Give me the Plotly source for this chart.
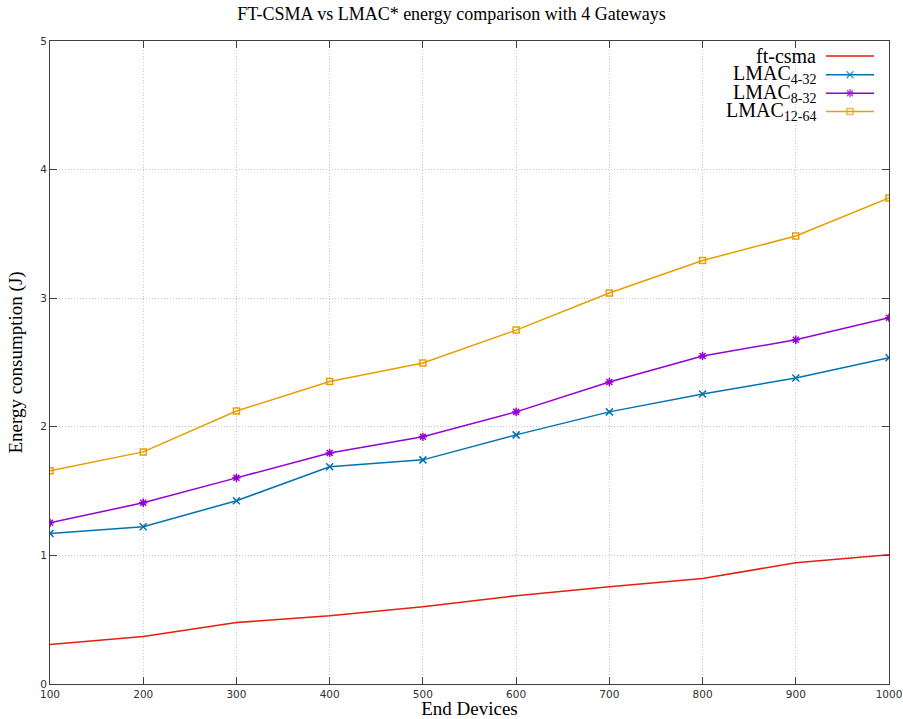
import plotly.graph_objects as go

end_devices = [100, 200, 300, 400, 500, 600, 700, 800, 900, 1000]
ft_csma = [0.307, 0.369, 0.478, 0.530, 0.600, 0.687, 0.757, 0.820, 0.943, 1.005]
lmac_4_32 = [1.171, 1.223, 1.425, 1.689, 1.743, 1.937, 2.116, 2.255, 2.380, 2.537]
lmac_8_32 = [1.254, 1.409, 1.603, 1.797, 1.922, 2.116, 2.348, 2.550, 2.677, 2.848]
lmac_12_64 = [1.658, 1.805, 2.123, 2.352, 2.496, 2.752, 3.040, 3.293, 3.484, 3.780]

series_names = ["ft-csma", "LMAC<sub>4-32</sub>", "LMAC<sub>8-32</sub>", "LMAC<sub>12-64</sub>"]
series_values = [ft_csma, lmac_4_32, lmac_8_32, lmac_12_64]
series_colors = ["#e51e10", "#0072b2", "#9400d3", "#e69f00"]
series_symbols = [None, "x-thin-open", "asterisk-open", "square-open"]

y_ticks = [0, 1, 2, 3, 4, 5]
x_ticks = end_devices

fig = go.Figure()
for name, vals, col, sym in zip(series_names, series_values, series_colors, series_symbols):
    if sym is None:
        fig.add_trace(go.Scatter(x=end_devices, y=vals, name=name, mode="lines",
                                 line=dict(color=col, width=1.5), showlegend=False))
    else:
        fig.add_trace(go.Scatter(x=end_devices, y=vals, name=name, mode="lines+markers",
                                 line=dict(color=col, width=1.5), showlegend=False,
                                 marker=dict(symbol=sym, size=7 if sym != "square-open" else 6,
                                             line=dict(color=col, width=1.5))))

# gnuplot-style key: right-aligned labels with samples to their right
key_text_x = 0.9154
key_line_x0, key_line_x1 = 0.9249, 0.9821
key_rows_y = [0.9767, 0.9475, 0.9189, 0.8905]
annotations = []
for name, col, sym, ky in zip(series_names, series_colors, series_symbols, key_rows_y):
    xm = (key_line_x0 + key_line_x1) / 2
    fig.add_trace(go.Scatter(
        x=[key_line_x0, xm, key_line_x1], y=[ky, ky, ky], xaxis="x2", yaxis="y2",
        mode="lines+markers" if sym else "lines", showlegend=False, hoverinfo="skip",
        line=dict(color=col, width=1.5),
        marker=dict(symbol=sym or "circle", size=[0, 7 if sym != "square-open" else 6, 0],
                    line=dict(color=col, width=1.5))))
    annotations.append(dict(text=name, x=key_text_x, y=ky, xref="paper", yref="paper",
                            xanchor="right", yanchor="middle", showarrow=False,
                            font=dict(family="Liberation Serif", size=20, color="black")))

axis_common = dict(showline=True, mirror="ticks", linecolor="#404040", linewidth=1,
                   ticks="inside", ticklen=7, tickcolor="#404040",
                   showgrid=True, gridcolor="#c8c8c8", griddash="1px,2px", gridwidth=1,
                   zeroline=False, automargin=False,
                   tickfont=dict(family="DejaVu Sans", size=10.5, color="#303030"))

fig.update_layout(
    width=903, height=719,
    margin=dict(l=50, r=14, t=40.5, b=34.5),
    paper_bgcolor="white", plot_bgcolor="white",
    title=dict(text="FT-CSMA vs LMAC* energy comparison with 4 Gateways",
               font=dict(family="Liberation Serif", size=18, color="black"),
               x=0.5, xanchor="center", y=1 - 14 / 719, yanchor="middle"),
    xaxis=dict(range=[100, 1000], tickvals=x_ticks, **axis_common,
               title=dict(text="End Devices", font=dict(family="Liberation Serif", size=19, color="black"),
                          standoff=2)),
    yaxis=dict(range=[0, 5], tickvals=y_ticks, **axis_common,
               title=dict(text="Energy consumption (J)", font=dict(family="Liberation Serif", size=19, color="black"),
                          standoff=12)),
    xaxis2=dict(range=[0, 1], overlaying="x", visible=False, fixedrange=True),
    yaxis2=dict(range=[0, 1], overlaying="y", visible=False, fixedrange=True),
    annotations=annotations,
    showlegend=False,
)

fig.write_html("out.html")
